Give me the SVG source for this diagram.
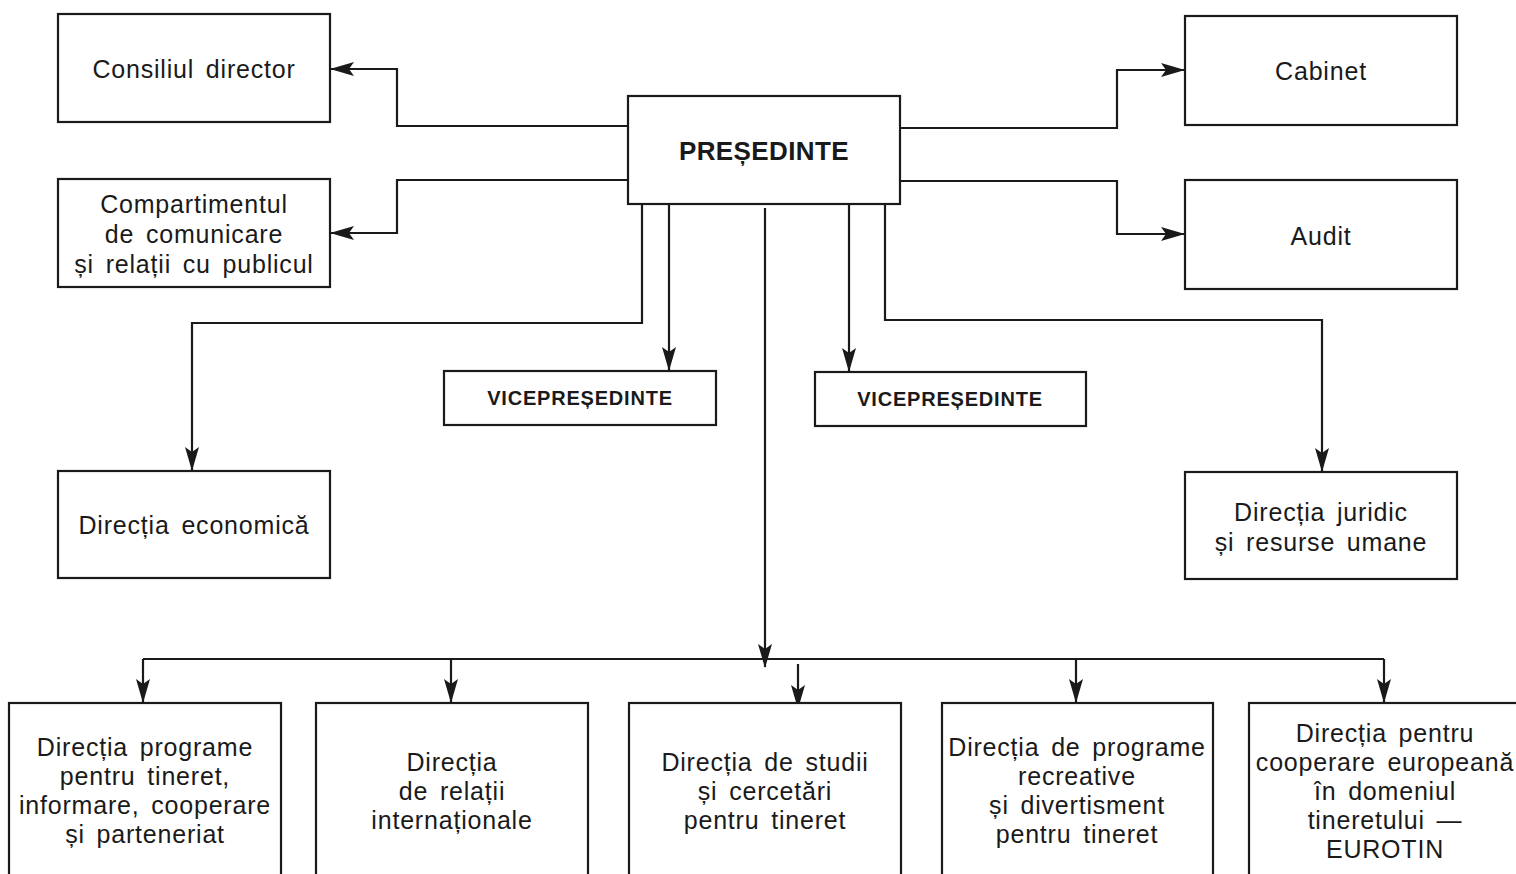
<svg xmlns="http://www.w3.org/2000/svg" width="1516" height="874" viewBox="0 0 1516 874">
<style>
.box{fill:#fff;stroke:#1a1a1a;stroke-width:2.2}
.t{font-family:"Liberation Sans",Arial,sans-serif;font-size:25px;letter-spacing:0.8px;fill:#1a1a1a;text-anchor:middle;word-spacing:4px}
.b{font-family:"Liberation Sans",Arial,sans-serif;font-weight:bold;fill:#1a1a1a;text-anchor:middle}
.c{fill:none;stroke:#1a1a1a;stroke-width:2.2}
.a{marker-end:url(#ah)}
</style>
<defs>
<marker id="ah" viewBox="0 0 24 14" refX="23" refY="7" markerWidth="24" markerHeight="14" markerUnits="userSpaceOnUse" orient="auto">
<path d="M0,0 L24,7 L0,14 L5,7 z" fill="#1a1a1a"/>
</marker>
</defs>
<rect width="1516" height="874" fill="#fff"/>
<g id="connectors">
<polyline class="c a" points="628,126 397,126 397,69 331,69"/>
<polyline class="c a" points="628,180 397,180 397,233 331,233"/>
<polyline class="c a" points="900,128 1117,128 1117,70 1184,70"/>
<polyline class="c a" points="900,181 1117,181 1117,234 1184,234"/>
<polyline class="c a" points="642,204 642,323 192,323 192,470"/>
<polyline class="c a" points="669,204 669,370"/>
<polyline class="c a" points="849,204 849,371"/>
<polyline class="c a" points="885,204 885,320 1322,320 1322,471"/>
<polyline class="c a" points="765,208 765,667"/>
<polyline class="c" points="143,659 1384,659"/>
<polyline class="c a" points="143,659 143,702"/>
<polyline class="c a" points="451,659 451,702"/>
<polyline class="c a" points="1076,659 1076,702"/>
<polyline class="c a" points="1384,659 1384,702"/>
<polyline class="c a" points="798,664 798,708"/>
</g>
<g id="consiliul">
<rect class="box" x="58" y="14" width="272" height="108"/>
<text class="t" x="194" y="78">Consiliul director</text>
</g>
<g id="compartimentul">
<rect class="box" x="58" y="179" width="272" height="108"/>
<text class="t" x="194" y="213">Compartimentul</text>
<text class="t" x="194" y="243">de comunicare</text>
<text class="t" x="194" y="273">și relații cu publicul</text>
</g>
<g id="presedinte">
<rect class="box" x="628" y="96" width="272" height="108"/>
<text class="b" x="764" y="160" font-size="26" letter-spacing="0.4">PREȘEDINTE</text>
</g>
<g id="cabinet">
<rect class="box" x="1185" y="16" width="272" height="109"/>
<text class="t" x="1321" y="80">Cabinet</text>
</g>
<g id="audit">
<rect class="box" x="1185" y="180" width="272" height="109"/>
<text class="t" x="1321" y="245">Audit</text>
</g>
<g id="vice1">
<rect class="box" x="444" y="371" width="272" height="54"/>
<text class="b" x="580" y="405" font-size="20" letter-spacing="0.8">VICEPREȘEDINTE</text>
</g>
<g id="vice2">
<rect class="box" x="815" y="372" width="271" height="54"/>
<text class="b" x="950" y="406" font-size="20" letter-spacing="0.8">VICEPREȘEDINTE</text>
</g>
<g id="economica">
<rect class="box" x="58" y="471" width="272" height="107"/>
<text class="t" x="194" y="534">Direcția economică</text>
</g>
<g id="juridic">
<rect class="box" x="1185" y="472" width="272" height="107"/>
<text class="t" x="1321" y="521">Direcția juridic</text>
<text class="t" x="1321" y="551">și resurse umane</text>
</g>
<g id="programe">
<rect class="box" x="9" y="703" width="272" height="190"/>
<text class="t" x="145" y="756">Direcția programe</text>
<text class="t" x="145" y="785">pentru tineret,</text>
<text class="t" x="145" y="814">informare, cooperare</text>
<text class="t" x="145" y="843">și parteneriat</text>
</g>
<g id="relatii">
<rect class="box" x="316" y="703" width="272" height="190"/>
<text class="t" x="452" y="771">Direcția</text>
<text class="t" x="452" y="800">de relații</text>
<text class="t" x="452" y="829">internaționale</text>
</g>
<g id="studii">
<rect class="box" x="629" y="703" width="272" height="190"/>
<text class="t" x="765" y="771">Direcția de studii</text>
<text class="t" x="765" y="800">și cercetări</text>
<text class="t" x="765" y="829">pentru tineret</text>
</g>
<g id="recreative">
<rect class="box" x="942" y="703" width="271" height="190"/>
<text class="t" x="1077" y="756">Direcția de programe</text>
<text class="t" x="1077" y="785">recreative</text>
<text class="t" x="1077" y="814">și divertisment</text>
<text class="t" x="1077" y="843">pentru tineret</text>
</g>
<g id="eurotin">
<rect class="box" x="1249" y="703" width="280" height="190"/>
<text class="t" x="1385" y="742">Direcția pentru</text>
<text class="t" x="1385" y="771">cooperare europeană</text>
<text class="t" x="1385" y="800">în domeniul</text>
<text class="t" x="1385" y="829">tineretului —</text>
<text class="t" x="1385" y="858">EUROTIN</text>
</g>
</svg>
